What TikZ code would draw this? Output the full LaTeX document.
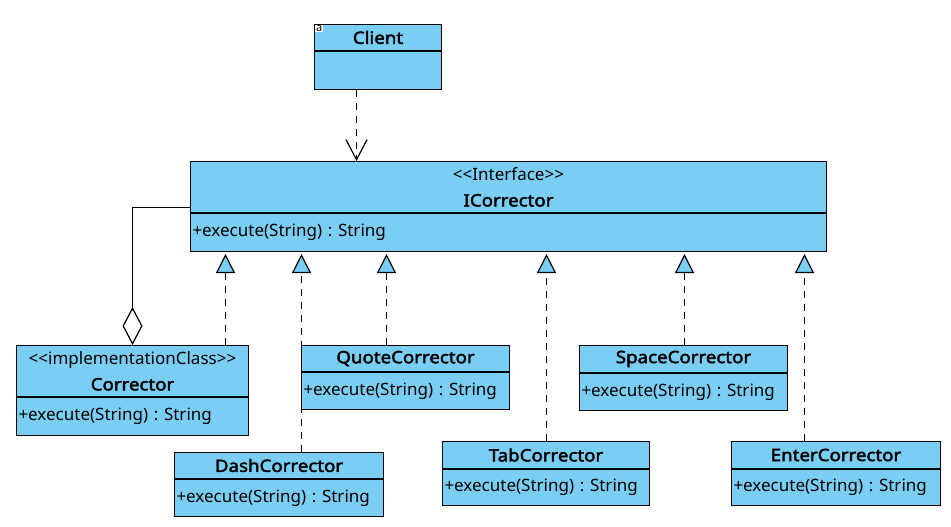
\documentclass[tikz,border=0pt]{standalone}
\usepackage{fontspec}
\setmainfont{Noto Sans}[BoldFont={Noto Sans}, BoldFeatures={FakeBold=2.4, FakeStretch=1.1}]
\usetikzlibrary{positioning,arrows.meta}
\definecolor{umlblue}{RGB}{122,206,244}
\newcommand{\stereo}[1]{<{}<#1>{}>}
\frenchspacing
\tikzset{
	cls/.style = {draw, fill=umlblue, line width=1pt, inner xsep=2pt, inner ysep=0pt,
	 font=\fontsize{17}{26}\selectfont},
	head/.style = {cls, anchor=north west, minimum height=26pt, font=\fontsize{17}{26}\selectfont\bfseries},
	stereohead/.style = {cls, anchor=north west, minimum height=51pt, align=center},
	ops/.style = {cls, align=left, minimum height=38pt},
	realize/.style = {line width=1.2pt, dash pattern=on 7pt off 6pt, shorten >=2pt,
	 -{Triangle[fill=umlblue, length=19pt, width=19pt, line width=1.2pt]}},
	dep/.style = {line width=1.2pt, dash pattern=on 7pt off 6pt,
	 -{Straight Barb[length=20pt, width=21pt, line width=1.2pt]}},
	aggr/.style = {line width=1.2pt, {Diamond[fill=white, length=38pt, width=20pt, line width=1.2pt]}-}
}

\begin{document}
\begin{tikzpicture}[x=1pt, y=-1pt]
\path[use as bounding box] (0,0) rectangle (951,527);

% NODES
% client
\node (client) [head, minimum width=127pt] at (314,24) {Client};
\node (client-ops) [ops, text width=123pt, below=0pt of client] {};
\node (client-icon) [anchor=north west, fill=white, inner xsep=1pt, inner ysep=0.5pt, font=\fontsize{11}{11}\selectfont] at ([shift={(1pt,-1pt)}]client.north west) {a};
% interface
\node (icor) [stereohead, minimum width=636pt] at (190,161) {\stereo{Interface}\\\textbf{ICorrector}};
\node (icor-ops) [ops, text width=632pt, below=0pt of icor] {+execute(String) : String};
% implementation
\node (corr) [stereohead, minimum width=232pt] at (16,345) {\stereo{implementationClass}\\\textbf{Corrector}};
\node (corr-ops) [ops, text width=228pt, below=0pt of corr] {+execute(String) : String};
% concrete correctors
\node (quote) [head, minimum width=208pt] at (301,345) {QuoteCorrector};
\node (quote-ops) [ops, minimum height=37pt, text width=204pt, below=0pt of quote] {+execute(String) : String};
\node (space) [head, minimum width=208pt, minimum height=27pt] at (579,345) {SpaceCorrector};
\node (space-ops) [ops, minimum height=37pt, text width=204pt, below=0pt of space] {+execute(String) : String};
\node (dash) [head, minimum width=209pt] at (174,452) {DashCorrector};
\node (dash-ops) [ops, minimum height=37pt, text width=205pt, below=0pt of dash] {+execute(String) : String};
\node (tab) [head, minimum width=207pt, minimum height=27pt] at (442,441) {TabCorrector};
\node (tab-ops) [ops, minimum height=36pt, text width=203pt, below=0pt of tab] {+execute(String) : String};
\node (enter) [head, minimum width=209pt, minimum height=27pt] at (731,441) {EnterCorrector};
\node (enter-ops) [ops, minimum height=36pt, text width=205pt, below=0pt of enter] {+execute(String) : String};

% anchor points of the connectors
\coordinate (client-down) at ([xshift=-21.5pt]client-ops.south);
\coordinate (corr-up) at ([xshift=93pt]corr.north);
\coordinate (dash-up) at ([xshift=22.5pt]dash.north);
\coordinate (quote-up) at ([xshift=-19pt]quote.north);
\coordinate (tab-up) at ([xshift=0.5pt]tab.north);
\coordinate (space-up) at ([xshift=1pt]space.north);
\coordinate (enter-up) at ([xshift=-31.5pt]enter.north);

%CONNECTIONS
\draw [dep] (client-down) -- (client-down |- icor.north);
\draw [aggr] (corr.north) |- ([yshift=-20.5pt]icor.west);
\draw [realize] (corr-up) -- (corr-up |- icor-ops.south);
\draw [realize] (dash-up) -- (dash-up |- icor-ops.south);
\draw [realize] (quote-up) -- (quote-up |- icor-ops.south);
\draw [realize] (tab-up) -- (tab-up |- icor-ops.south);
\draw [realize] (space-up) -- (space-up |- icor-ops.south);
\draw [realize] (enter-up) -- (enter-up |- icor-ops.south);

\end{tikzpicture}
\end{document}
